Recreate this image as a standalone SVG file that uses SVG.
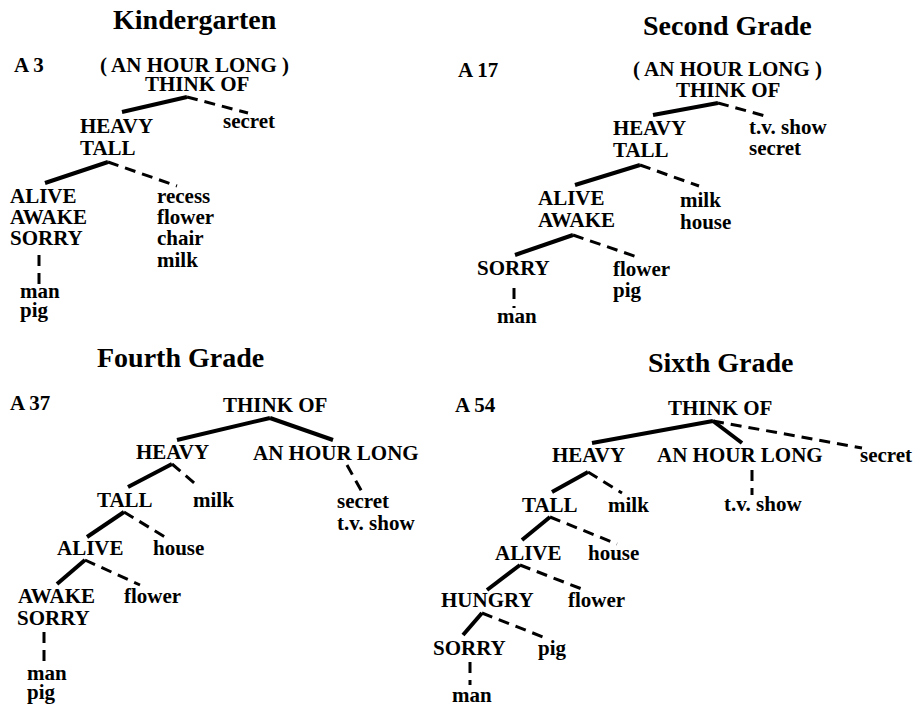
<svg xmlns="http://www.w3.org/2000/svg" width="915" height="707" viewBox="0 0 915 707">
<style>
text{font-family:"Liberation Serif","Times New Roman",serif;font-weight:bold;fill:#000}
.t{font-size:28px}
.l{font-size:21px}
.s{stroke:#000;stroke-width:4;stroke-linecap:butt;fill:none}
.d{stroke:#000;stroke-width:3;stroke-dasharray:11 7;fill:none}
</style>
<rect width="915" height="707" fill="#fff"/>
<!-- Kindergarten -->
<g id="k-title"><text class="t" x="113" y="29">Kindergarten</text></g>
<g id="k-label"><text class="l" x="14" y="72">A 3</text></g>
<g id="k-root"><text class="l" x="100" y="72">( AN HOUR LONG )</text><text class="l" x="145" y="91">THINK OF</text></g>
<g id="k-heavy"><text class="l" x="80" y="133">HEAVY</text><text class="l" x="80" y="155">TALL</text></g>
<g id="k-secret"><text class="l" x="223" y="128">secret</text></g>
<g id="k-alive"><text class="l" x="10" y="203">ALIVE</text><text class="l" x="10" y="224">AWAKE</text><text class="l" x="10" y="245">SORRY</text></g>
<g id="k-recess"><text class="l" x="157" y="203">recess</text><text class="l" x="157" y="224">flower</text><text class="l" x="157" y="245">chair</text><text class="l" x="157" y="267">milk</text></g>
<g id="k-man"><text class="l" x="20" y="298">man</text><text class="l" x="20" y="317">pig</text></g>
<!-- Second Grade -->
<g id="s-title"><text class="t" x="643" y="35">Second Grade</text></g>
<g id="s-label"><text class="l" x="458" y="77">A 17</text></g>
<g id="s-root"><text class="l" x="633" y="76">( AN HOUR LONG )</text><text class="l" x="676" y="97">THINK OF</text></g>
<g id="s-heavy"><text class="l" x="613" y="135">HEAVY</text><text class="l" x="613" y="157">TALL</text></g>
<g id="s-tv"><text class="l" x="749" y="134">t.v. show</text><text class="l" x="749" y="155">secret</text></g>
<g id="s-alive"><text class="l" x="538" y="205">ALIVE</text><text class="l" x="538" y="227">AWAKE</text></g>
<g id="s-milk"><text class="l" x="680" y="207">milk</text><text class="l" x="680" y="229">house</text></g>
<g id="s-sorry"><text class="l" x="477" y="275">SORRY</text></g>
<g id="s-flower"><text class="l" x="613" y="276">flower</text><text class="l" x="613" y="297">pig</text></g>
<g id="s-man"><text class="l" x="497" y="323">man</text></g>
<!-- Fourth Grade -->
<g id="f-title"><text class="t" x="97" y="367">Fourth Grade</text></g>
<g id="f-label"><text class="l" x="10" y="410">A 37</text></g>
<g id="f-root"><text class="l" x="223" y="412">THINK OF</text></g>
<g id="f-heavy"><text class="l" x="136" y="459">HEAVY</text></g>
<g id="f-hour"><text class="l" x="253" y="460">AN HOUR LONG</text></g>
<g id="f-secret"><text class="l" x="337" y="508">secret</text><text class="l" x="337" y="530">t.v. show</text></g>
<g id="f-tall"><text class="l" x="97" y="507">TALL</text></g>
<g id="f-milk"><text class="l" x="193" y="507">milk</text></g>
<g id="f-alive"><text class="l" x="57" y="555">ALIVE</text></g>
<g id="f-house"><text class="l" x="153" y="555">house</text></g>
<g id="f-awake"><text class="l" x="18" y="603">AWAKE</text><text class="l" x="17" y="625">SORRY</text></g>
<g id="f-flower"><text class="l" x="124" y="603">flower</text></g>
<g id="f-man"><text class="l" x="27" y="680">man</text><text class="l" x="27" y="699">pig</text></g>
<!-- Sixth Grade -->
<g id="x-title"><text class="t" x="648" y="372">Sixth Grade</text></g>
<g id="x-label"><text class="l" x="455" y="412">A 54</text></g>
<g id="x-root"><text class="l" x="668" y="415">THINK OF</text></g>
<g id="x-heavy"><text class="l" x="552" y="462">HEAVY</text></g>
<g id="x-hour"><text class="l" x="657" y="462">AN HOUR LONG</text></g>
<g id="x-secret"><text class="l" x="860" y="462">secret</text></g>
<g id="x-tv"><text class="l" x="724" y="511">t.v. show</text></g>
<g id="x-tall"><text class="l" x="522" y="512">TALL</text></g>
<g id="x-milk"><text class="l" x="608" y="512">milk</text></g>
<g id="x-alive"><text class="l" x="495" y="560">ALIVE</text></g>
<g id="x-house"><text class="l" x="588" y="560">house</text></g>
<g id="x-hungry"><text class="l" x="441" y="607">HUNGRY</text></g>
<g id="x-flower"><text class="l" x="568" y="607">flower</text></g>
<g id="x-sorry"><text class="l" x="433" y="655">SORRY</text></g>
<g id="x-pig"><text class="l" x="538" y="655">pig</text></g>
<g id="x-man"><text class="l" x="452" y="702">man</text></g>
<!-- Connectors -->
<g id="connectors">
<line class="s" x1="187" y1="97" x2="122" y2="112"/>
<line class="d" x1="187" y1="97" x2="248" y2="113"/>
<line class="s" x1="108" y1="162" x2="45" y2="183"/>
<line class="d" x1="108" y1="162" x2="177" y2="186"/>
<line class="d" x1="39" y1="255" x2="39" y2="287"/>

<line class="s" x1="718" y1="103" x2="653" y2="115"/>
<line class="d" x1="718" y1="103" x2="769" y2="117"/>
<line class="s" x1="640" y1="165" x2="575" y2="185"/>
<line class="d" x1="640" y1="165" x2="699" y2="186"/>
<line class="s" x1="573" y1="235" x2="515" y2="255"/>
<line class="d" x1="573" y1="235" x2="640" y2="258"/>
<line class="d" x1="514" y1="288" x2="514" y2="308"/>

<line class="s" x1="270" y1="418" x2="177" y2="440"/>
<line class="s" x1="270" y1="418" x2="333" y2="440"/>
<line class="d" x1="347" y1="465" x2="362" y2="492"/>
<line class="s" x1="172" y1="464" x2="128" y2="487"/>
<line class="d" x1="172" y1="464" x2="199" y2="487"/>
<line class="s" x1="124" y1="512" x2="87" y2="537"/>
<line class="d" x1="124" y1="512" x2="165" y2="537"/>
<line class="s" x1="85" y1="560" x2="57" y2="584"/>
<line class="d" x1="85" y1="560" x2="140" y2="585"/>
<line class="d" x1="44" y1="632" x2="44" y2="662"/>

<line class="s" x1="713" y1="421" x2="592" y2="443"/>
<line class="s" x1="713" y1="421" x2="742" y2="443"/>
<line class="d" x1="713" y1="421" x2="862" y2="448"/>
<line class="d" x1="752" y1="470" x2="752" y2="495"/>
<line class="s" x1="588" y1="472" x2="552" y2="492"/>
<line class="d" x1="588" y1="472" x2="622" y2="493"/>
<line class="s" x1="550" y1="517" x2="522" y2="540"/>
<line class="d" x1="550" y1="517" x2="617" y2="544"/>
<line class="s" x1="520" y1="565" x2="487" y2="590"/>
<line class="d" x1="520" y1="565" x2="587" y2="591"/>
<line class="s" x1="482" y1="613" x2="463" y2="635"/>
<line class="d" x1="482" y1="613" x2="543" y2="637"/>
<line class="d" x1="470" y1="662" x2="470" y2="685"/>
</g>
</svg>
